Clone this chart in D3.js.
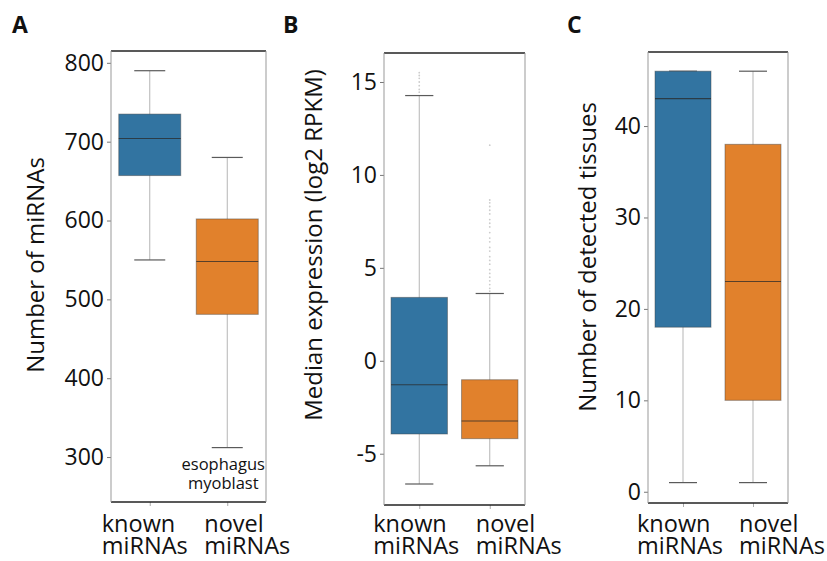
<!DOCTYPE html>
<html>
<head>
<meta charset="utf-8">
<script src="https://cdn.jsdelivr.net/npm/d3@7"></script>
<style>
  html, body { margin: 0; padding: 0; background: #fff; }
  svg { display: block; }
  text { font-family: "Open Sans", "DejaVu Sans", sans-serif; fill: #111; }
</style>
</head>
<body>
<svg id="chart" width="827" height="561"></svg>
<script>
// ---------------- data ----------------
const categories = ["known miRNAs", "novel miRNAs"];
const categoryLines = [["known", "miRNAs"], ["novel", "miRNAs"]];

// box stats: [whisker low, Q1, median, Q3, whisker high]
const aKnown = [550, 657, 704, 735, 790];
const aNovel = [312, 481, 548, 602, 680];
const aTicks = [300, 400, 500, 600, 700, 800];

const bKnown = [-6.63, -3.94, -1.29, 3.41, 14.27];
const bNovel = [-5.65, -4.19, -3.24, -1.02, 3.62];
const bKnownFliers = [15.5, 15.35, 15.2, 15.0, 14.8, 14.6, 14.45];
const bNovelFliers = [11.6, 8.65, 8.5, 8.3, 8.1, 7.9, 7.6, 7.4, 7.2, 6.9, 6.6, 6.4, 6.1, 5.9, 5.6, 5.4, 5.2, 4.9, 4.7, 4.5, 4.3, 4.1, 3.9, 3.75];
const bTicks = [-5, 0, 5, 10, 15];

const cKnown = [1, 18, 43, 46, 46];
const cNovel = [1, 10, 23, 38, 46];
const cTicks = [0, 10, 20, 30, 40];

const colors = ["#3274a1", "#e1812c"];

// ---------------- panels ----------------
const panels = [
  { letter: "A", lx: 12, box: [111, 266, 51, 502], domain: [243, 815], ticks: aTicks,
    stats: [aKnown, aNovel], fliers: [[], []], ylabel: "Number of miRNAs", ylx: 36, yly: 265,
    xoff: [-48, -23] },
  { letter: "B", lx: 283, box: [384, 525, 53, 505], domain: [-7.76, 16.56], ticks: bTicks,
    stats: [bKnown, bNovel], fliers: [bKnownFliers, bNovelFliers], ylabel: "Median expression (log2 RPKM)", ylx: 314, yly: 245,
    xoff: [-46, -14] },
  { letter: "C", lx: 567, box: [648, 788, 52, 503], domain: [-1.23, 48.1], ticks: cTicks,
    stats: [cKnown, cNovel], fliers: [[], []], ylabel: "Number of detected tissues", ylx: 588, yly: 257,
    xoff: [-46, -14] }
];

const svg = d3.select("#chart");

panels.forEach(p => {
  const [x0, x1, y0, y1] = p.box;
  const g = svg.append("g");
  const x = d3.scalePoint().domain(categories).range([x0, x1]).padding(0.5);
  const y = d3.scaleLinear().domain(p.domain).range([y1, y0]);
  const step = x.step();
  const bw = step * 0.8;

  // panel letter
  g.append("text").attr("x", p.lx).attr("y", 33)
    .style("font-size", "23px").style("font-weight", "bold").text(p.letter);

  // y axis ticks
  const yAxis = d3.axisLeft(y).tickValues(p.ticks).tickSize(4).tickPadding(3).tickFormat(d3.format("d"));
  const ya = g.append("g").attr("transform", `translate(${x0},0)`).call(yAxis);
  ya.select(".domain").remove();
  ya.selectAll(".tick line").attr("stroke", "#777");
  ya.selectAll(".tick text").style("font-size", "23px").attr("fill", "#111")
    .style("font-family", "'Open Sans', sans-serif").text(d => d < 0 ? "-" + Math.abs(d) : d);

  // x axis ticks
  const xAxis = d3.axisBottom(x).tickSize(4).tickFormat("");
  const xa = g.append("g").attr("transform", `translate(0,${y1})`).call(xAxis);
  xa.select(".domain").remove();
  xa.selectAll(".tick line").attr("stroke", "#aaa");

  // x labels
  categories.forEach((c, i) => {
    categoryLines[i].forEach((ln, j) => {
      g.append("text").attr("x", x(c) + p.xoff[i]).attr("y", 532 + j * 22)
        .style("font-size", "23.5px").text(ln);
    });
  });

  // y label
  g.append("text")
    .attr("transform", `translate(${p.ylx},${p.yly}) rotate(-90)`)
    .attr("text-anchor", "middle").attr("dy", "0.35em")
    .style("font-size", "24px").text(p.ylabel);

  // boxes
  categories.forEach((c, i) => {
    const s = p.stats[i];
    const cx = x(c);
    // whisker
    g.append("line").attr("x1", cx).attr("x2", cx).attr("y1", y(s[0])).attr("y2", y(s[4]))
      .attr("stroke", "#b5b5b5").attr("stroke-width", 1);
    // caps
    [s[0], s[4]].forEach(v => {
      g.append("line").attr("x1", cx - bw / 4).attr("x2", cx + bw / 4).attr("y1", y(v)).attr("y2", y(v))
        .attr("stroke", "#5a5a5a").attr("stroke-width", 1.2);
    });
    // box
    g.append("rect").attr("x", cx - bw / 2).attr("width", bw)
      .attr("y", y(s[3])).attr("height", y(s[1]) - y(s[3]))
      .attr("fill", colors[i]).attr("stroke", "#3d3d3d").attr("stroke-opacity", 0.45).attr("stroke-width", 1);
    // median
    g.append("line").attr("x1", cx - bw / 2).attr("x2", cx + bw / 2).attr("y1", y(s[2])).attr("y2", y(s[2]))
      .attr("stroke", "#2a2a2a").attr("stroke-opacity", 0.75).attr("stroke-width", 1.2);
    // fliers
    g.selectAll(null).data(p.fliers[i]).enter().append("circle")
      .attr("cx", cx).attr("cy", d => y(d)).attr("r", 0.9).attr("fill", "#cccccc");
  });

  // frame
  g.append("line").attr("x1", x0).attr("x2", x1).attr("y1", y0).attr("y2", y0).attr("stroke", "#222").attr("stroke-width", 1.5);
  g.append("line").attr("x1", x0).attr("x2", x1).attr("y1", y1).attr("y2", y1).attr("stroke", "#222").attr("stroke-width", 1.5);
  g.append("line").attr("x1", x0).attr("x2", x0).attr("y1", y0).attr("y2", y1).attr("stroke", "#999").attr("stroke-width", 1);
  g.append("line").attr("x1", x1).attr("x2", x1).attr("y1", y0).attr("y2", y1).attr("stroke", "#999").attr("stroke-width", 1);

  // annotation (panel A)
  if (p.letter === "A") {
    const cx = x(categories[1]) - 4;
    g.append("text").attr("x", cx).attr("y", 470).attr("text-anchor", "middle").style("font-size", "16.5px").attr("fill", "#222")
      .text("esophagus");
    g.append("text").attr("x", cx).attr("y", 489).attr("text-anchor", "middle").style("font-size", "16.5px").attr("fill", "#222")
      .text("myoblast");
  }
});
</script>
</body>
</html>
